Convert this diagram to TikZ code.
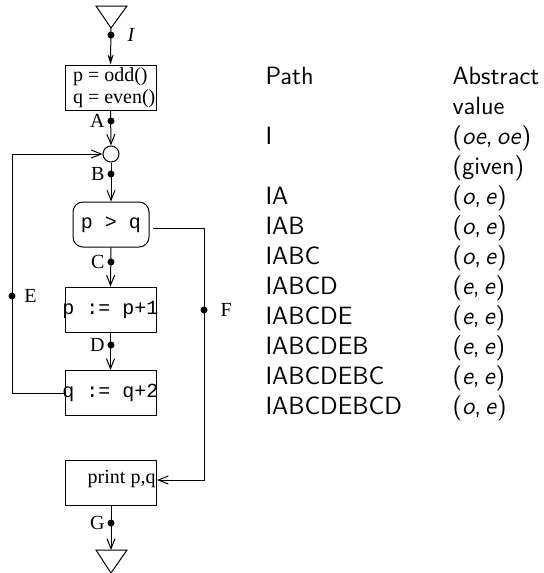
\documentclass[tikz,border=0pt]{standalone}
\usepackage{fontspec}
\setmainfont{Liberation Serif}
\setmonofont{Liberation Mono}
\usetikzlibrary{arrows.meta}
\newcommand\absval[2]{(\textit{#1},\,\textit{#2})}

\begin{document}
\begin{tikzpicture}[x=0.5pt,y=-0.5pt,line width=0.5pt,
  procbox/.style={draw, rectangle, minimum width=45.5pt, minimum height=22.5pt, inner sep=0pt},
  testbox/.style={draw, rectangle, rounded corners=5pt, minimum width=38pt, minimum height=22.5pt, inner sep=0pt},
  joint/.style={draw, circle, minimum size=8pt, inner sep=0pt},
  pt/.style={circle, fill, minimum size=3.5pt, inner sep=0pt, label distance=1.5pt},
  edgelbl/.style={font=\fontsize{10}{12}\selectfont, inner sep=1pt},
  codetext/.style={font=\ttfamily\fontsize{10}{12}\selectfont},
  flow/.style={-{Straight Barb[length=5pt,width=4pt]}},
  tabtext/.style={font=\sffamily\fontsize{12.5}{15}\selectfont, inner sep=0pt, anchor=base west}]
\useasboundingbox (0,0) rectangle (543,573);

%Shape: start and end triangles
\draw (96,6) -- (127,6) -- (111,28) -- cycle;
\coordinate (start) at (111,28);
\draw (96,550) -- (127,550) -- (111,573) -- cycle;
\coordinate (stop) at (111,550);

%Boxes
\node[procbox] (init) at (110.5,87.5) {};
\node[anchor=west, inner sep=0pt, align=left, font=\fontsize{10}{11}\selectfont] at ([xshift=4pt]init.west) {p = odd()\\q = even()};
\node[joint] (merge) at (111,154) {};
\node[testbox] (test) at (111,224.5) {};
\node[codetext] at (test) {p > q};
\node[procbox] (incp) at (110.5,309.5) {};
\node[codetext] at (incp) {p := p+1};
\node[procbox] (incq) at (110.5,393) {};
\node[codetext] at (incq) {q := q+2};
\node[procbox] (print) at (111,482.5) {};
\node[anchor=east, inner sep=0.5pt, font=\fontsize{10}{12}\selectfont] at ([yshift=1.5pt]print.east) {print p,q};

%Points on the edges
\node[pt, label={[edgelbl, font=\itshape\fontsize{10}{12}\selectfont, label distance=5pt]right:I}] (pI) at (111,35) {};
\node[pt, label={[edgelbl]left:A}] (pA) at (111,121) {};
\node[pt, label={[edgelbl]left:B}] (pB) at (111,174) {};
\node[pt, label={[edgelbl]left:C}] (pC) at (111,262) {};
\node[pt, label={[edgelbl]left:D}] (pD) at (111,345) {};
\node[pt, label={[edgelbl, label distance=3pt]right:E}] (pE) at (12,296) {};
\node[pt, label={[edgelbl, label distance=5pt]right:F}] (pF) at (204,310) {};
\node[pt, label={[edgelbl]left:G}] (pG) at (111,523) {};

%Ends of the F branch
\coordinate (testout) at ([xshift=1.5pt,yshift=-1.75pt]test.east);
\coordinate (printin) at ([yshift=1.25pt]print.east);

%Straight Lines
\draw[-{Stealth[length=5pt,width=3pt]}] (start) -- (init.north);
\draw[flow] (init.south) -- (merge.north);
\draw[flow] (merge.south) -- (test.north);
\draw[flow] (test.south) -- (incp.north);
\draw[flow] (incp.south) -- (incq.north);
\draw[flow] (incq.west) -- (pE.center |- incq.west) -- (pE.center |- merge.west) -- (merge.west);
\draw[flow] (testout) -- (pF.center |- testout) -- (pF.center |- printin) -- (printin);
\draw[flow] (print.south) -- (stop);

% Table of paths
\foreach \row/\pth/\val in {0/Path/Abstract, 1//value, 2/I/\absval{oe}{oe}, 3//(given),
    4/IA/\absval{o}{e}, 5/IAB/\absval{o}{e}, 6/IABC/\absval{o}{e}, 7/IABCD/\absval{e}{e},
    8/IABCDE/\absval{e}{e}, 9/IABCDEB/\absval{e}{e}, 10/IABCDEBC/\absval{e}{e}, 11/IABCDEBCD/\absval{o}{e}}
{
  \node[tabtext] (path\row) at (265,{84+30*\row}) {\pth};
  \node[tabtext] (val\row) at (452,{84+30*\row}) {\val};
}
\end{tikzpicture}
\end{document}
